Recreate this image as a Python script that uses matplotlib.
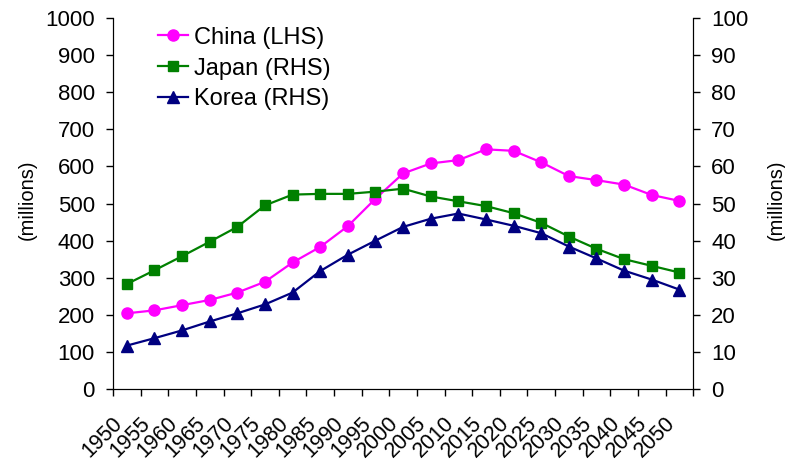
import matplotlib.pyplot as plt
from matplotlib.transforms import ScaledTranslation
import numpy as np

plt.rcParams['font.family'] = ['Liberation Sans', 'DejaVu Sans']

# Population by five-year period
years = [1950, 1955, 1960, 1965, 1970, 1975, 1980, 1985, 1990, 1995, 2000,
         2005, 2010, 2015, 2020, 2025, 2030, 2035, 2040, 2045, 2050]
china = [204, 212, 226, 240, 260, 289, 341, 383, 439, 513, 581,
         608, 617, 646, 642, 611, 574, 563, 551, 523, 507]
japan = [28.3, 32.0, 35.8, 39.7, 43.7, 49.5, 52.4, 52.6, 52.6, 53.2, 54.0,
         51.9, 50.6, 49.3, 47.4, 44.8, 41.1, 37.8, 35.0, 33.2, 31.4]
korea = [11.7, 13.7, 15.8, 18.2, 20.4, 22.8, 26.0, 31.8, 36.2, 40.0, 43.7,
         45.9, 47.3, 45.7, 44.0, 42.0, 38.4, 35.2, 31.9, 29.5, 26.8]

x = np.arange(len(years)) + 0.5

fig = plt.figure(figsize=(7.85, 4.62), dpi=100)
ax = fig.add_axes([0.144, 0.158, 0.739, 0.803])
ax2 = ax.twinx()

l1, = ax.plot(x, china, color='#FF00FF', lw=1.6, marker='o', ms=8, label='China (LHS)')
l2, = ax2.plot(x, japan, color='#008000', lw=1.6, marker='s', ms=7.5, label='Japan (RHS)')
l3, = ax2.plot(x, korea, color='#000080', lw=1.6, marker='^', ms=8, label='Korea (RHS)')

ax.set_xlim(0, len(years))
ax.set_ylim(0, 1000)
ax2.set_ylim(0, 100)
ax.set_yticks(range(0, 1001, 100))
ax2.set_yticks(range(0, 101, 10))

# category boundaries get the tick marks, labels sit under the categories
ax.set_xticks(np.arange(len(years) + 1))
ax.set_xticklabels([])
ax.set_xticks(x, minor=True)
ax.set_xticklabels([str(y) for y in years], minor=True, rotation=45,
                   ha='right', va='top', fontsize=15.5)
shift = ScaledTranslation(-6 / 100, 0, fig.dpi_scale_trans)
for lab in ax.get_xticklabels(minor=True):
    lab.set_transform(lab.get_transform() + shift)
ax.tick_params(axis='x', which='minor', length=0, pad=17)
ax.tick_params(axis='x', which='major', length=5, width=1)
ax.tick_params(axis='y', labelsize=16, length=5, width=1, pad=8)
ax2.tick_params(axis='y', labelsize=16, length=5, width=1, pad=8)

for a in (ax, ax2):
    a.spines['top'].set_visible(False)

fig.text(27 / 785, 0.567, '(millions)', rotation=90, ha='center', va='center', fontsize=14.5)
fig.text(776 / 785, 0.567, '(millions)', rotation=90, ha='center', va='center', fontsize=14.5)

ax.legend(handles=[l1, l2, l3], loc='upper left', bbox_to_anchor=(0.078, 0.977),
          frameon=False, fontsize=17, handlelength=1.25, handletextpad=0.25,
          labelspacing=0.38, borderaxespad=0, borderpad=0)

fig.savefig('out.png', dpi=100)
